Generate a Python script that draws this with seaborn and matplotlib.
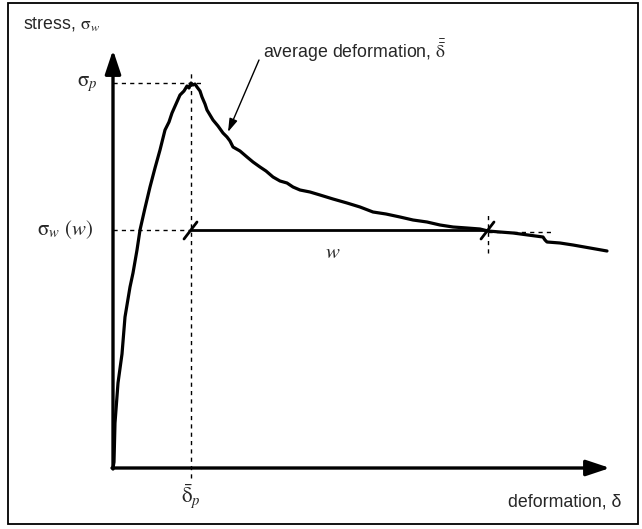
import numpy as np
import pandas as pd
import seaborn as sns
import matplotlib.pyplot as plt
from matplotlib.patches import Rectangle

# stress-deformation curve (arbitrary units)
deformation = [0.00, 0.01, 0.02, 0.05, 0.09, 0.12, 0.17, 0.20, 0.24, 0.27, 0.32, 0.37,
               0.42, 0.47, 0.52, 0.56, 0.59, 0.63, 0.67, 0.71, 0.74, 0.76, 0.78, 0.80,
               0.82, 0.84, 0.87, 0.89, 0.92, 0.94, 0.97, 1.00, 1.05, 1.10, 1.14, 1.17,
               1.20, 1.27, 1.34, 1.40, 1.47, 1.53, 1.60, 1.67, 1.74, 1.80, 1.87, 1.97,
               2.07, 2.20, 2.34, 2.47, 2.60, 2.73, 2.87, 3.00, 3.14, 3.27, 3.40, 3.54,
               3.67, 3.75, 3.87, 4.00, 4.15, 4.30, 4.32, 4.34, 4.47, 4.60, 4.77, 4.94]
stress = [0.00, 0.06, 0.45, 0.85, 1.14, 1.51, 1.81, 1.95, 2.18, 2.38, 2.60, 2.81,
          3.00, 3.18, 3.38, 3.46, 3.55, 3.64, 3.73, 3.77, 3.82, 3.80, 3.85, 3.83,
          3.84, 3.81, 3.77, 3.71, 3.64, 3.58, 3.53, 3.48, 3.42, 3.35, 3.31, 3.27,
          3.21, 3.17, 3.11, 3.06, 3.01, 2.97, 2.91, 2.87, 2.85, 2.81, 2.78, 2.76,
          2.73, 2.69, 2.65, 2.61, 2.56, 2.54, 2.51, 2.48, 2.46, 2.43, 2.41, 2.40,
          2.39, 2.37, 2.36, 2.35, 2.33, 2.31, 2.28, 2.26, 2.25, 2.23, 2.20, 2.17]

delta_p = 0.78      # deformation at peak
sigma_p = 3.85      # peak stress
sigma_w = 2.38      # stress at window w
w_end = 3.75        # delta_p + w

df = pd.DataFrame({'deformation': deformation, 'stress': stress})

sns.set_style("white")
plt.rcParams['font.family'] = ['Liberation Sans', 'DejaVu Sans']
plt.rcParams['mathtext.fontset'] = 'stix'

fig = plt.figure(figsize=(6.42, 5.29), dpi=100)
ax = fig.add_axes([0, 0, 1, 1])
ax.set_xlim(-1.13, 5.29)
ax.set_ylim(-0.61, 4.68)
ax.axis('off')

sns.lineplot(data=df, x='deformation', y='stress', color='black', lw=2.3, ax=ax)

# axes with arrow heads
arrow = dict(arrowstyle='-|>,head_length=1.2,head_width=0.4', mutation_scale=12,
             lw=2.4, color='black', shrinkA=0, shrinkB=0)
ax.annotate('', xy=(0, 4.18), xytext=(0, -0.01), arrowprops=arrow)
ax.annotate('', xy=(4.97, 0), xytext=(-0.01, 0), arrowprops=arrow)

dash = dict(color='black', lw=1.0, ls=(0, (3, 3)))
ax.plot([0, 0.90], [sigma_p, sigma_p], **dash)
ax.plot([delta_p, delta_p], [-0.10, 3.96], **dash)
ax.plot([0, delta_p], [sigma_w, sigma_w], **dash)
ax.plot([w_end, 4.39], [sigma_w - 0.02, sigma_w - 0.02], **dash)
ax.plot([w_end, w_end], [2.15, 2.56], **dash)

# window w
ax.plot([delta_p, w_end], [sigma_w, sigma_w], color='black', lw=2.0)
for xc in [delta_p, w_end]:
    ax.plot([xc - 0.07, xc + 0.06], [sigma_w - 0.09, sigma_w + 0.08], color='black', lw=2.0)

# labels
ax.text(-0.90, 4.44, r'stress, $\mathrm{\sigma}_w$', fontsize=12.8, ha='left', va='center')
ax.text(-0.15, 3.84, r'$\mathrm{\sigma}_p$', fontsize=15, ha='right', va='center')
ax.text(-0.20, sigma_w, r'$\mathrm{\sigma}_w\ (w)$', fontsize=15, ha='right', va='center')
ax.text(2.20, 2.16, r'$w$', fontsize=15, ha='center', va='center')
ax.text(delta_p, -0.29, r'$\bar{\mathrm{\delta}}_p$', fontsize=15, ha='center', va='center')
ax.text(5.08, -0.34, 'deformation, δ', fontsize=12.8, ha='right', va='center')
ax.text(1.50, 4.17, r'average deformation, $\bar{\bar{\mathrm{\delta}}}$', fontsize=12.8,
        ha='left', va='center')
ax.annotate('', xy=(1.15, 3.36), xytext=(1.46, 4.08),
            arrowprops=dict(arrowstyle='-|>,head_length=0.8,head_width=0.25',
                            mutation_scale=10, lw=1.0, color='black',
                            shrinkA=0, shrinkB=0))

fig.patches.append(Rectangle((8 / 642, 5 / 529), 630 / 642, 521 / 529,
                             transform=fig.transFigure, fill=False,
                             edgecolor='black', lw=1.3))

plt.savefig('out.png', dpi=100)
